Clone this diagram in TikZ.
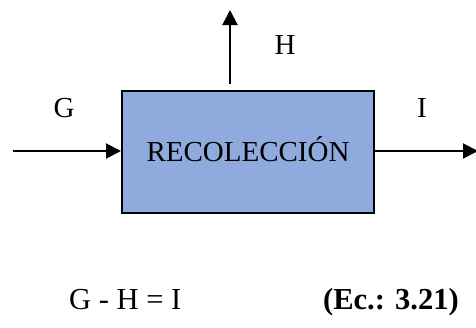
\documentclass[tikz,border=0pt]{standalone}
\usepackage{fontspec}
\setmainfont{Liberation Serif}
\usetikzlibrary{arrows.meta}
\definecolor{boxblue}{HTML}{8FAADC}
\tikzset{
  flow/.style={line width=2pt,-{Triangle[length=15pt,width=15pt]}},
  lbl/.style={inner sep=0pt,anchor=base,font=\fontsize{29}{34}\selectfont},
  procbox/.style={draw=black,line width=2pt,fill=boxblue,minimum width=252pt,minimum height=122pt,inner sep=0pt,
    text height=19pt,text depth=0pt,font=\fontsize{29}{34}\selectfont}
}
\begin{document}
\begin{tikzpicture}[x=1pt,y=-1pt]
\useasboundingbox (0,0) rectangle (476,327);
\node[procbox] (box) at (248,152) {RECOLECCIÓN};
\coordinate (in) at (13,151);
\coordinate (out) at (478,151);
\coordinate (hs) at (230,84);
\coordinate (he) at (230,10);
\draw[flow] (in) -- (in -| box.west);
\draw[flow] (out -| box.east) -- (out);
\draw[flow] (hs) -- (he);
\node[lbl] (g) at (64,117) {G};
\node[lbl] (h) at (285,54) {H};
\node[lbl] (i) at (422,117) {I};
\node[lbl,anchor=base west,font=\fontsize{30.5}{36}\selectfont] (eq) at (69,309) {G - H = I};
\node[lbl,anchor=base west,font=\fontsize{30.5}{36}\selectfont\bfseries] (ec) at (323,309) {(Ec.: 3.21)};
\end{tikzpicture}
\end{document}
